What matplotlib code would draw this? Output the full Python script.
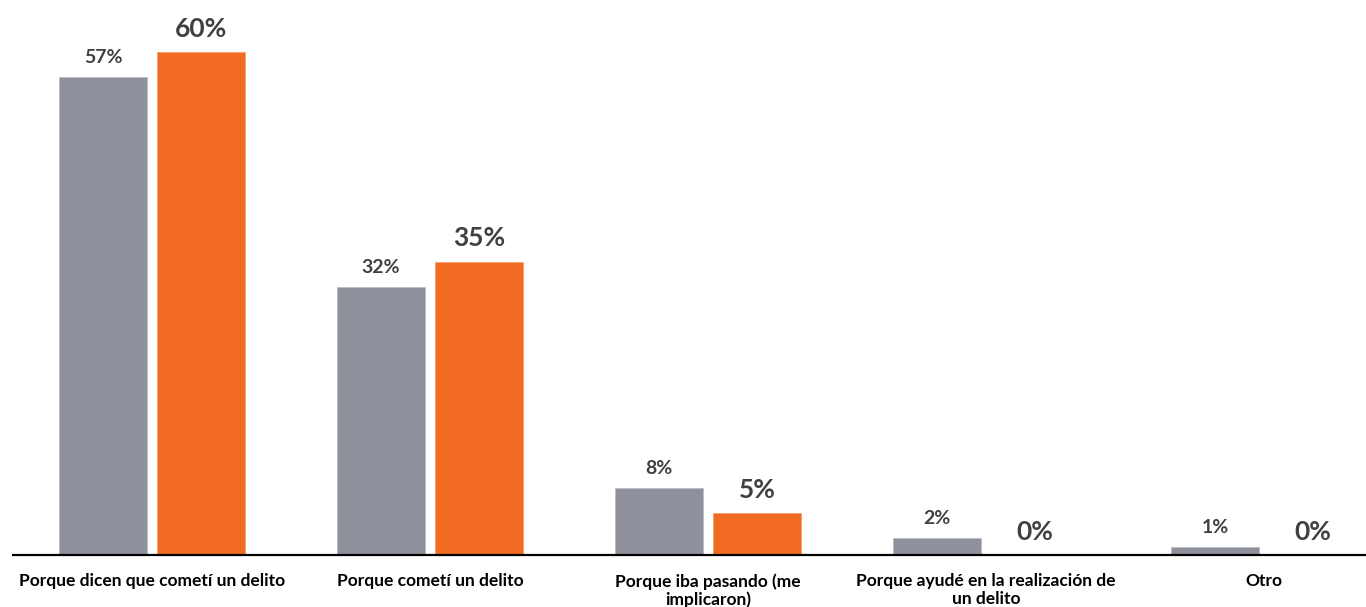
import numpy as np
import matplotlib.pyplot as plt

plt.rcParams['font.family'] = ['Lato', 'DejaVu Sans']

categories = ['Porque dicen que cometí un delito',
              'Porque cometí un delito',
              'Porque iba pasando (me\nimplicaron)',
              'Porque ayudé en la realización de\nun delito',
              'Otro']
serie_gris = [57, 32, 8, 2, 1]
serie_naranja = [60, 35, 5, 0, 0]

gris = '#8E919C'
naranja = '#F26B22'
texto = '#404040'

fig = plt.figure(figsize=(13.66, 6.07), dpi=100)
ax = fig.add_axes([13 / 1366, 52 / 607, 1353 / 1366, 555 / 607])

x = np.arange(len(categories))
w = 0.317
off = 0.176
b1 = ax.bar(x - off, serie_gris, w, color=gris, edgecolor='#b8bac2', linewidth=0.5)
b2 = ax.bar(x + off, serie_naranja, w, color=naranja, edgecolor='#f59a66', linewidth=0.5)

for rect, v in zip(b1, serie_gris):
    ax.annotate(f'{v}%', (rect.get_x() + rect.get_width() / 2, v),
                xytext=(0, 8), textcoords='offset points', ha='center', va='bottom',
                fontsize=14, fontweight='bold', color=texto)
for rect, v in zip(b2, serie_naranja):
    ax.annotate(f'{v}%', (rect.get_x() + rect.get_width() / 2, v),
                xytext=(0, 8), textcoords='offset points', ha='center', va='bottom',
                fontsize=19, fontweight='bold', color=texto)

ax.set_xlim(-0.5, -0.5 + 1353 / 278)
ax.set_ylim(0, 66.2)
ax.set_xticks(x)
ax.set_xticklabels(categories, fontsize=12.5, fontweight='bold', color='black',
                   linespacing=1.15)
ax.tick_params(axis='x', length=0, pad=13)
ax.set_yticks([])
for s in ['top', 'right', 'left']:
    ax.spines[s].set_visible(False)
ax.spines['bottom'].set_linewidth(1.6)
ax.spines['bottom'].set_color('black')

fig.savefig('out.png', dpi=100)
